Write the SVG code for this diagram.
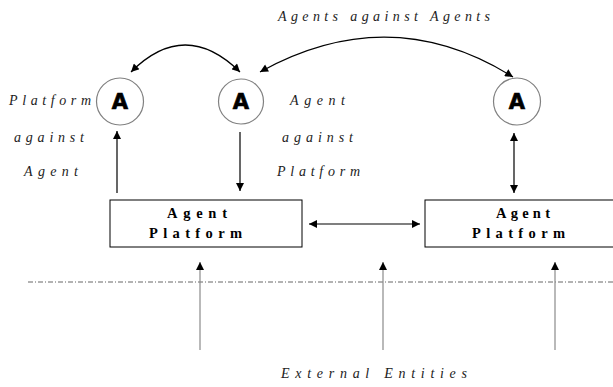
<svg xmlns="http://www.w3.org/2000/svg" width="613" height="387" viewBox="0 0 613 387">
  <style>
    .agent { fill: #fff; stroke: #808080; stroke-width: 1.2; }
    .agent-label { font-family: "DejaVu Sans", "Liberation Sans", sans-serif; font-weight: bold; font-size: 21px; fill: #000; stroke: #000; stroke-width: 0.7; text-anchor: middle; }
    .box { fill: #fff; stroke: #000; stroke-width: 1; }
    .box-label { font-family: "Liberation Serif", serif; font-weight: bold; font-size: 14.5px; fill: #000; }
    .note { font-family: "Liberation Serif", serif; font-style: italic; font-size: 14px; fill: #222; }
    .link { fill: none; stroke: #000; stroke-width: 1.2; }
    .ext { fill: none; stroke: #8a8a8a; stroke-width: 1.2; }
    .boundary { fill: none; stroke: #666; stroke-width: 1; stroke-dasharray: 5 2 1 2; }
  </style>
  <defs>
    <marker id="head" viewBox="0 0 10 10" refX="10" refY="5" markerWidth="9" markerHeight="8" markerUnits="userSpaceOnUse" orient="auto-start-reverse">
      <path d="M0,0 L10,5 L0,10 z" fill="#000"/>
    </marker>
  </defs>

  <rect width="613" height="387" fill="#fff"/>

  <!-- trust boundary between platforms and outside world -->
  <line class="boundary" x1="28" y1="282" x2="613" y2="282"/>

  <g id="connectors">
    <!-- agent to agent attacks -->
    <path class="link" d="M131,72 Q185,18 240,72" marker-start="url(#head)" marker-end="url(#head)"/>
    <path class="link" d="M260,72 Q390,0 513,77" marker-start="url(#head)" marker-end="url(#head)"/>
    <!-- platform / agent interactions -->
    <line class="link" x1="117" y1="193" x2="117" y2="131" marker-end="url(#head)"/>
    <line class="link" x1="240" y1="132" x2="240" y2="191" marker-end="url(#head)"/>
    <line class="link" x1="514" y1="133" x2="514" y2="193" marker-start="url(#head)" marker-end="url(#head)"/>
    <!-- platform to platform -->
    <line class="link" x1="309" y1="224" x2="420" y2="224" marker-start="url(#head)" marker-end="url(#head)"/>
    <!-- external entities -->
    <line class="ext" x1="200" y1="350" x2="200" y2="262" marker-end="url(#head)"/>
    <line class="ext" x1="383" y1="350" x2="383" y2="262" marker-end="url(#head)"/>
    <line class="ext" x1="555" y1="350" x2="555" y2="262" marker-end="url(#head)"/>
  </g>

  <g id="agent1">
    <circle class="agent" cx="120" cy="101.5" r="23.5"/>
    <text class="agent-label" x="120" y="109">A</text>
  </g>
  <g id="agent2">
    <circle class="agent" cx="241" cy="101.5" r="22.5"/>
    <text class="agent-label" x="241" y="109">A</text>
  </g>
  <g id="agent3">
    <circle class="agent" cx="517" cy="101.5" r="23.5"/>
    <text class="agent-label" x="517" y="109">A</text>
  </g>

  <g id="platform1">
    <rect class="box" x="110" y="200" width="192" height="47"/>
    <text class="box-label" x="167" y="218" textLength="60" lengthAdjust="spacing">Agent</text>
    <text class="box-label" x="149" y="238" textLength="93" lengthAdjust="spacing">Platform</text>
  </g>
  <g id="platform2">
    <rect class="box" x="425" y="200" width="195" height="47"/>
    <text class="box-label" x="496" y="218" textLength="54" lengthAdjust="spacing">Agent</text>
    <text class="box-label" x="472" y="238" textLength="93" lengthAdjust="spacing">Platform</text>
  </g>

  <g id="labels">
    <text class="note" x="278" y="21" textLength="212" lengthAdjust="spacing">Agents against Agents</text>
    <text class="note" x="9" y="105" textLength="82" lengthAdjust="spacing">Platform</text>
    <text class="note" x="14" y="142" textLength="70" lengthAdjust="spacing">against</text>
    <text class="note" x="24" y="176" textLength="54" lengthAdjust="spacing">Agent</text>
    <text class="note" x="290" y="105" textLength="55" lengthAdjust="spacing">Agent</text>
    <text class="note" x="282" y="142" textLength="71" lengthAdjust="spacing">against</text>
    <text class="note" x="277" y="176" textLength="83" lengthAdjust="spacing">Platform</text>
    <text class="note" x="281" y="378" textLength="186" lengthAdjust="spacing">External Entities</text>
  </g>
</svg>
